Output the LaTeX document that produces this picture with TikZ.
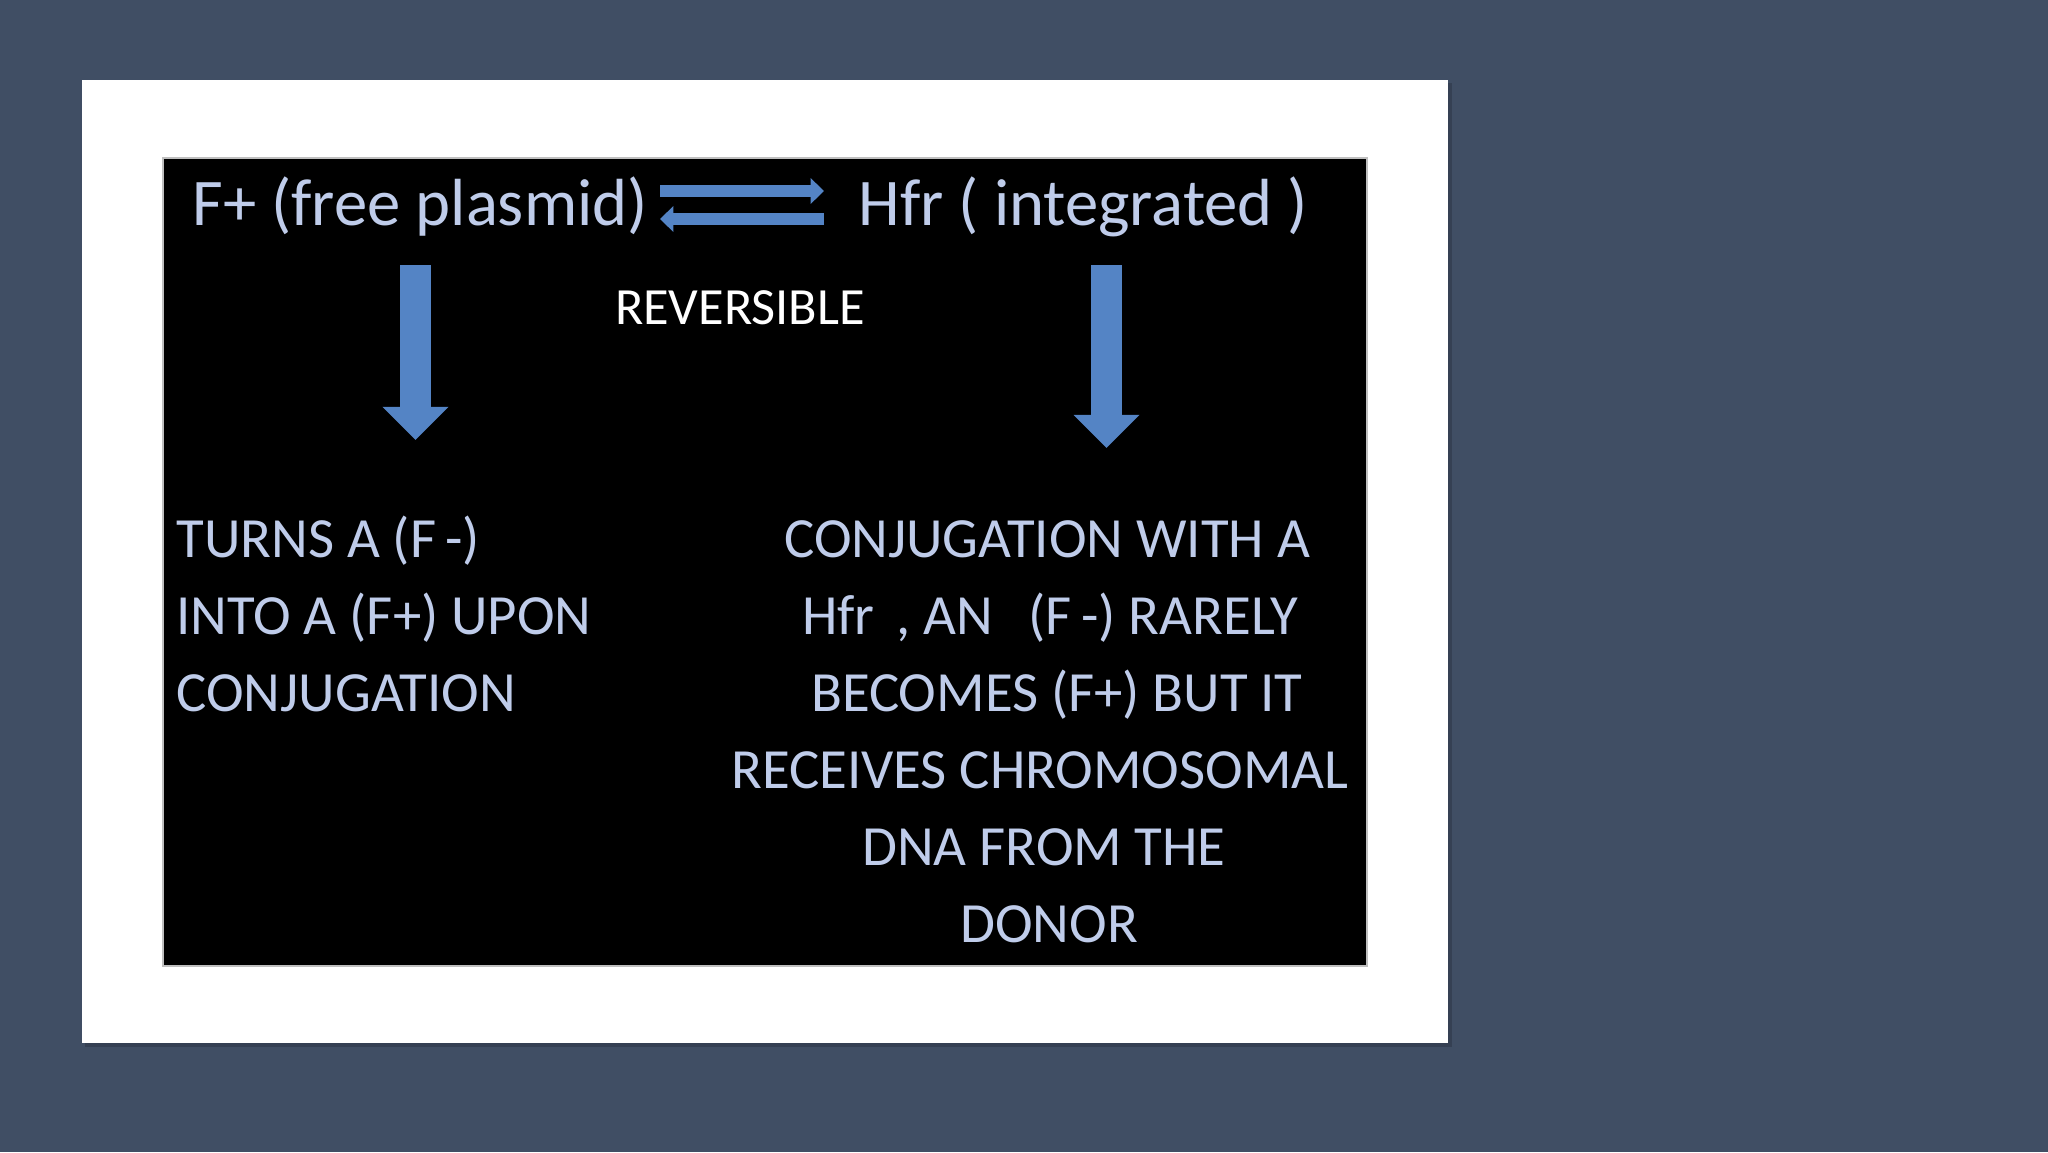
\documentclass[tikz,border=0pt]{standalone}
\usepackage{fontspec}
\setmainfont{Carlito}
\usetikzlibrary{arrows.meta}
\definecolor{bgc}{HTML}{404E64}
\definecolor{txt}{HTML}{BFCCEA}
\definecolor{arr}{HTML}{5484C5}
\definecolor{shad}{HTML}{2E3748}
\tikzset{
  toptext/.style={text=txt,font=\fontsize{25}{30}\selectfont,inner sep=0pt},
  bodytext/.style={text=txt,font=\fontsize{21.3}{25}\selectfont,inner sep=0pt},
  revtext/.style={text=white,font=\fontsize{19.6}{24}\selectfont,inner sep=0pt},
  downarrow/.style={draw=arr,line width=11.6pt,-{Triangle[width=24pt,length=12.4pt]}},
  eqarrow/.style={draw=arr,line width=4.5pt,-{Triangle[width=9.4pt,length=5pt]}}
}
\begin{document}
\begin{tikzpicture}[x=0.375pt,y=-0.375pt]
\useasboundingbox (0,0) rectangle (2048,1152);
\fill[bgc] (0,0) rectangle (2048,1152);
% white slide with shadow
\fill[shad,opacity=0.6] (85,83) rectangle (1452,1047);
\fill[white] (82,80) rectangle (1448,1043);
% black panel
\fill[black,draw=gray!50,line width=0.4pt] (163,158) rectangle (1367,966);
% top texts
\node[toptext,anchor=base west] (fp) at (192,225) {F+ (free plasmid)};
\node[toptext,anchor=base west] (hfr) at (858,225) {Hfr ( integrated )};
\node[revtext,anchor=base] (rev) at (740,324) {REVERSIBLE};
% equilibrium arrows
\coordinate (e1s) at (660,191);
\coordinate (e1e) at (824,191);
\coordinate (e2s) at (824,219);
\coordinate (e2e) at (660,219);
\draw[eqarrow] (e1s) -- (e1e);
\draw[eqarrow] (e2s) -- (e2e);
% down arrows
\coordinate (la1) at (415.5,265);
\coordinate (la2) at (415.5,440);
\coordinate (ra1) at (1106.5,265);
\coordinate (ra2) at (1106.5,448);
\draw[downarrow] (la1) -- (la2);
\draw[downarrow] (ra1) -- (ra2);
% left text
\node[bodytext,anchor=base west] (l1) at (176,557) {TURNS A (F\,-)};
\node[bodytext,anchor=base west] (l2) at (176,634) {INTO A (F+) UPON};
\node[bodytext,anchor=base west] (l3) at (176,711) {CONJUGATION};
% right text
\node[bodytext,anchor=base] (r1) at (1047,557) {CONJUGATION WITH A};
\node[bodytext,anchor=base] (r2) at (1050,634) {Hfr\, , AN \ \,(F\,-) RARELY};
\node[bodytext,anchor=base] (r3) at (1057,711) {BECOMES (F+) BUT IT};
\node[bodytext,anchor=base] (r4) at (1040,788) {RECEIVES CHROMOSOMAL};
\node[bodytext,anchor=base] (r5) at (1044,865) {DNA FROM THE};
\node[bodytext,anchor=base] (r6) at (1049,942) {DONOR};
\end{tikzpicture}
\end{document}
